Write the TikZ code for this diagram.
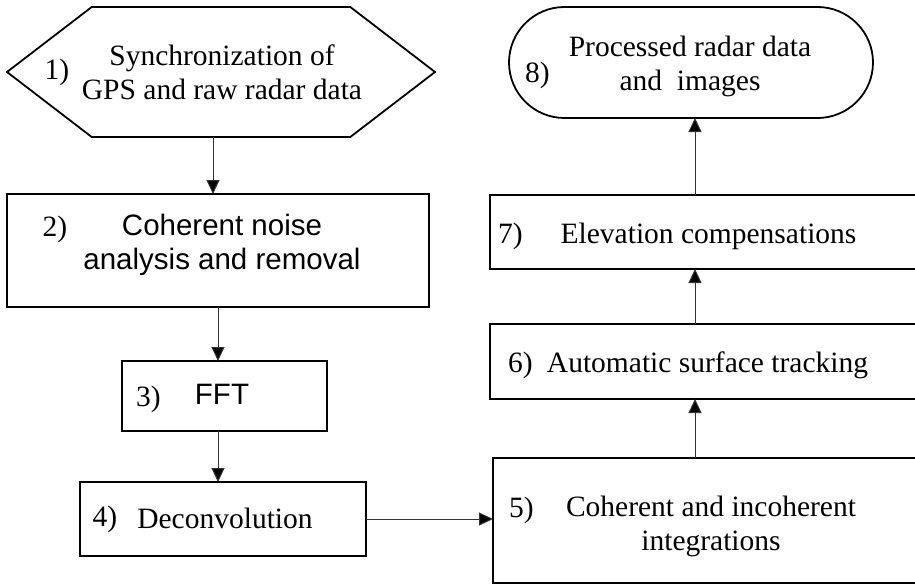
\documentclass[tikz,border=0pt]{standalone}
\usepackage{fontspec}
\setmainfont{Liberation Serif}
\setsansfont{Liberation Sans}
\usepackage{tikz}
\usetikzlibrary{shapes.geometric, shapes.symbols, shapes.misc, arrows.meta, positioning}
\tikzstyle{procbox} = [rectangle, draw=black, line width=1.9pt, inner sep=0pt, outer sep=0pt]
\tikzstyle{arrow} = [line width=1pt, draw=black!80, -{Triangle[length=14pt, width=13pt, fill=black]}]

\begin{document}
\begin{tikzpicture}[
    x=1pt, y=-1pt,
    every node/.style={font=\fontsize{29.5}{34}\selectfont},
    txt/.style={align=center, inner sep=0pt},
    num/.style={inner sep=0pt}
]
\useasboundingbox (0,0) rectangle (915,586);

% Nodes
\node (sync) [shape=signal, signal to=west and east, signal pointer angle=75, draw=black, line width=1.8pt, minimum width=428, minimum height=130, inner sep=0pt, outer sep=0pt] at (221,72) {};
\node (noise) [procbox, minimum width=422, minimum height=113] at (218,250.5) {};
\node (fft) [procbox, minimum width=205, minimum height=70] at (224.5,396) {};
\node (deconv) [procbox, minimum width=286, minimum height=74] at (223,519) {};
\node (integ) [procbox, minimum width=432, minimum height=125] at (709,520.5) {};
\node (track) [procbox, minimum width=435, minimum height=75] at (707.5,361.5) {};
\node (elev) [procbox, minimum width=435, minimum height=74] at (707.5,232) {};
\node (output) [rounded rectangle, draw=black, line width=1.8pt, minimum width=364, minimum height=111, inner sep=0pt, outer sep=0pt] at (691,62.5) {};

% Texts
\node (synctxt) [txt] at (222,72) {Synchronization of\\GPS and raw radar data};
\node (noisetxt) [txt, font=\fontsize{29.5}{34}\selectfont\sffamily] at (222,245) {Coherent noise\\analysis and removal};
\node (ffttxt) [txt, font=\fontsize{29.5}{34}\selectfont\sffamily] at (222,394.5) {FFT};
\node (deconvtxt) [txt] at (225,518) {Deconvolution};
\node (integtxt) [txt] at (711,526) {Coherent and incoherent\\integrations};
\node (tracktxt) [txt] at (707.5,365) {Automatic surface tracking};
\node (elevtxt) [txt] at (708.5,236) {Elevation compensations};
\node (outputtxt) [txt] at (690,66) {Processed radar data\\and~ images};

% Step numbers
\node (n1) [num] at (57,72.5) {1)};
\node (n2) [num] at (55,229.5) {2)};
\node (n3) [num] at (148.5,399.5) {3)};
\node (n4) [num] at (105,519.5) {4)};
\node (n5) [num] at (521.5,510.5) {5)};
\node (n6) [num] at (520.5,365.5) {6)};
\node (n7) [num] at (510.5,236.5) {7)};
\node (n8) [num] at (537.5,75.5) {8)};

% Arrows
\coordinate (rcol) at (695,0);
\draw [arrow] ([xshift=-8pt]sync.south) -- ([xshift=-8pt]sync.south |- noise.north);
\draw [arrow] (noise.south) -- (noise.south |- fft.north);
\draw [arrow] (noise.south |- fft.south) -- (noise.south |- deconv.north);
\draw [arrow] (deconv.east) -- (deconv.east -| integ.west);
\draw [arrow] (rcol |- integ.north) -- (rcol |- track.south);
\draw [arrow] (rcol |- track.north) -- (rcol |- elev.south);
\draw [arrow] (rcol |- elev.north) -- (rcol |- output.south);

\end{tikzpicture}
\end{document}
